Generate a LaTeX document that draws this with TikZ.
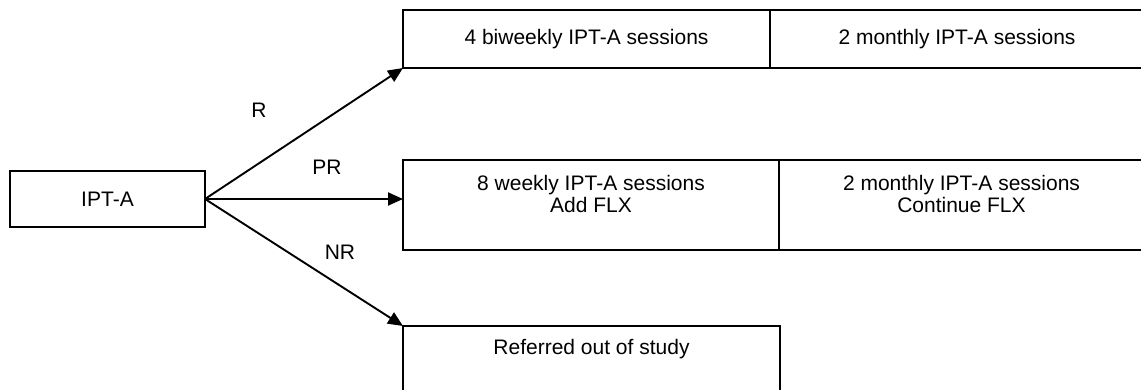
\documentclass[tikz,border=0pt]{standalone}
\usepackage{fontspec}
\setmainfont{Liberation Sans}
\usetikzlibrary{arrows.meta,positioning}

\begin{document}
\begin{tikzpicture}[x=1pt,y=-1pt,>={Triangle[length=15pt,width=13pt]},line width=1.9pt,
        font=\fontsize{21}{22.5}\selectfont]
    % Define the style for the blocks
    \tikzstyle{block} = [rectangle, draw, inner sep=0pt, outer sep=0pt, text centered, align=center]
    \tikzstyle{lbl} = [inner sep=0pt]

    \useasboundingbox (0,0) rectangle (1141,390);

    % Nodes position
    \node [block, minimum width=195pt, minimum height=56pt] (ipta) at (107.5,199) {IPT-A};
    \node [block, minimum width=367pt, minimum height=58pt] (rfirst) at (586.5,39) {4 biweekly IPT-A sessions};
    \node [block, minimum width=374pt, minimum height=58pt, right=0pt of rfirst] (rsecond) {2 monthly IPT-A sessions};
    \node [block, minimum width=376pt, minimum height=90pt] (prfirst) at (591,205.25) {8 weekly IPT-A sessions\\ Add FLX\\ \mbox{}};
    \node [block, minimum width=365pt, minimum height=90pt, right=0pt of prfirst] (prsecond) {2 monthly IPT-A sessions\\ Continue FLX\\ \mbox{}};
    \node [block, minimum width=377pt, minimum height=65pt] (nrout) at (591.5,358.5) {Referred out of study\\ \mbox{}};

    % Arrows
    \draw[->] (ipta.east) -- (rfirst.south west);
    \draw[->] (ipta.east) -- (ipta.east -| prfirst.west);
    \draw[->] (ipta.east) -- (nrout.north west);

    % Labels for the responses
    \node[lbl] (lr) at (259,110) {R};
    \node[lbl] (lpr) at (327,167) {PR};
    \node[lbl] (lnr) at (340,252) {NR};
\end{tikzpicture}
\end{document}
